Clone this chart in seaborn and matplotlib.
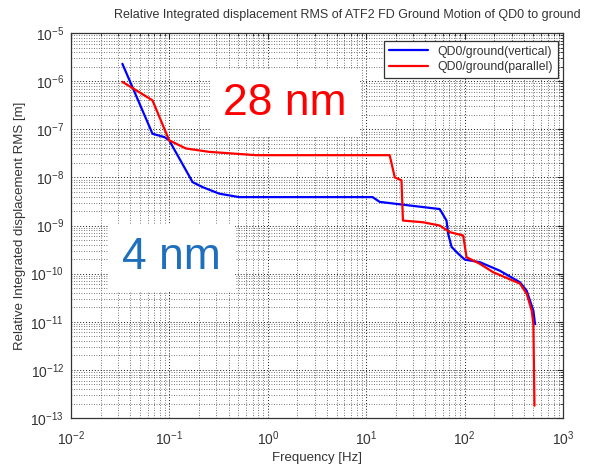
import numpy as np
import pandas as pd
import matplotlib
matplotlib.use("Agg")
import matplotlib.pyplot as plt
import seaborn as sns
from matplotlib.ticker import LogLocator, NullFormatter

# ---- data ----
freq_vertical = [0.0333, 0.0673, 0.0888, 0.0995, 0.172, 0.217, 0.321, 0.51, 11.6, 13.7,
                 55.8, 65.4, 68, 73.6, 86, 100.5, 142.8, 228, 365, 427, 499, 519]
rms_vertical = [2.3e-6, 8.1e-8, 6.9e-8, 5.9e-8, 8.0e-9, 6.3e-9, 4.6e-9, 3.9e-9, 3.9e-9, 3.1e-9,
                2.2e-9, 1.27e-9, 6.7e-10, 3.6e-10, 2.6e-10, 1.96e-10, 1.73e-10, 1.15e-10, 6.6e-11,
                4.4e-11, 1.7e-11, 8.9e-12]

freq_parallel = [0.0333, 0.0673, 0.0995, 0.147, 0.254, 0.76, 17.3, 19.5, 22.8, 23.6, 37.8,
                 55.8, 70.6, 96.6, 104.5, 142.8, 195, 365, 427, 480, 499, 512]
rms_parallel = [9.7e-7, 4.0e-7, 5.9e-8, 4.0e-8, 3.4e-8, 2.9e-8, 2.9e-8, 1.0e-8, 8.7e-9, 1.27e-9,
                1.17e-9, 1.0e-9, 7.3e-10, 6.2e-10, 2.2e-10, 1.6e-10, 1.07e-10, 6.2e-11, 3.8e-11,
                1.7e-11, 8.9e-12, 1.8e-13]

labels = ["QD0/ground(vertical)", "QD0/ground(parallel)"]
xticks = [1e-2, 1e-1, 1e0, 1e1, 1e2, 1e3]
yticks = [10.0 ** k for k in range(-13, -4)]
title = "Relative Integrated displacement RMS of ATF2 FD Ground Motion of QD0 to ground"
xlabel = "Frequency [Hz]"
ylabel = "Relative Integrated displacement RMS [m]"
note_big = "28 nm"
note_small = "4 nm"

df = pd.concat([
    pd.DataFrame({"f": freq_vertical, "rms": rms_vertical, "series": labels[0]}),
    pd.DataFrame({"f": freq_parallel, "rms": rms_parallel, "series": labels[1]}),
], ignore_index=True)

sns.set_theme(style="white")
plt.rcParams["font.family"] = ["Liberation Sans", "DejaVu Sans"]
plt.rcParams["mathtext.fontset"] = "custom"
plt.rcParams["mathtext.rm"] = "Liberation Sans"
plt.rcParams["mathtext.it"] = "Liberation Sans"
plt.rcParams["mathtext.default"] = "regular"

fig = plt.figure(figsize=(5.89, 4.66), dpi=100)
ax = fig.add_axes([0.1205, 0.103, 0.8355, 0.826])

sns.lineplot(data=df, x="f", y="rms", hue="series", palette=["#0000ff", "#ff0000"],
             sort=False, estimator=None, units="series", linewidth=1.6, ax=ax, legend=True,
             zorder=3)

ax.set_xscale("log")
ax.set_yscale("log")
ax.set_xlim(1e-2, 1e3)
ax.set_ylim(1e-13, 1e-5)
ax.set_xticks(xticks)
ax.set_yticks(yticks)
ax.xaxis.set_minor_locator(LogLocator(base=10, subs=np.arange(2, 10), numticks=50))
ax.yaxis.set_minor_locator(LogLocator(base=10, subs=np.arange(2, 10), numticks=50))
ax.xaxis.set_minor_formatter(NullFormatter())
ax.yaxis.set_minor_formatter(NullFormatter())

ax.grid(True, which="major", linestyle=(0, (1, 2)), color="black", linewidth=0.7, alpha=0.9)
ax.grid(True, which="minor", linestyle=(0, (1, 2)), color="black", linewidth=0.6, alpha=0.7)
ax.tick_params(which="both", direction="in", top=True, right=True, colors="#222222",
               labelcolor="#333333", labelsize=10)
ax.tick_params(which="major", length=4, width=0.8)
ax.tick_params(which="minor", length=2, width=0.6)
ax.tick_params(axis="x", which="major", pad=8)
ax.tick_params(axis="y", which="major", pad=5)
for s in ax.spines.values():
    s.set_color("#333333")
    s.set_linewidth(0.9)

ax.set_xlabel(xlabel, fontsize=9.5, color="#333333", labelpad=3)
ax.set_ylabel(ylabel, fontsize=9.5, color="#333333", labelpad=3)
fig.text(347 / 589, 1 - 15 / 466, title, ha="center", va="center", fontsize=9, color="#333333")

leg = ax.legend(loc="upper right", bbox_to_anchor=(0.99, 0.98), fontsize=8.8, frameon=True,
                fancybox=False, edgecolor="#333333", framealpha=1, borderpad=0.4,
                handlelength=3.2, labelspacing=0.3, borderaxespad=0)
leg.get_frame().set_linewidth(0.9)
for t in leg.get_texts():
    t.set_color("#333333")
for l in leg.get_lines():
    l.set_linewidth(1.6)

# white label boxes with annotations
ax.text(0.435, 0.818, note_big, transform=ax.transAxes, ha="center", va="center",
        fontsize=32, color="#ff0000", zorder=5,
        bbox=dict(boxstyle="square,pad=0.3", facecolor="white", edgecolor="none"))
ax.text(0.205, 0.416, note_small, transform=ax.transAxes, ha="center", va="center",
        fontsize=32, color="#1f6fbf", zorder=5,
        bbox=dict(boxstyle="square,pad=0.3", facecolor="white", edgecolor="none"))

fig.savefig("out.png", dpi=100, facecolor="white")
